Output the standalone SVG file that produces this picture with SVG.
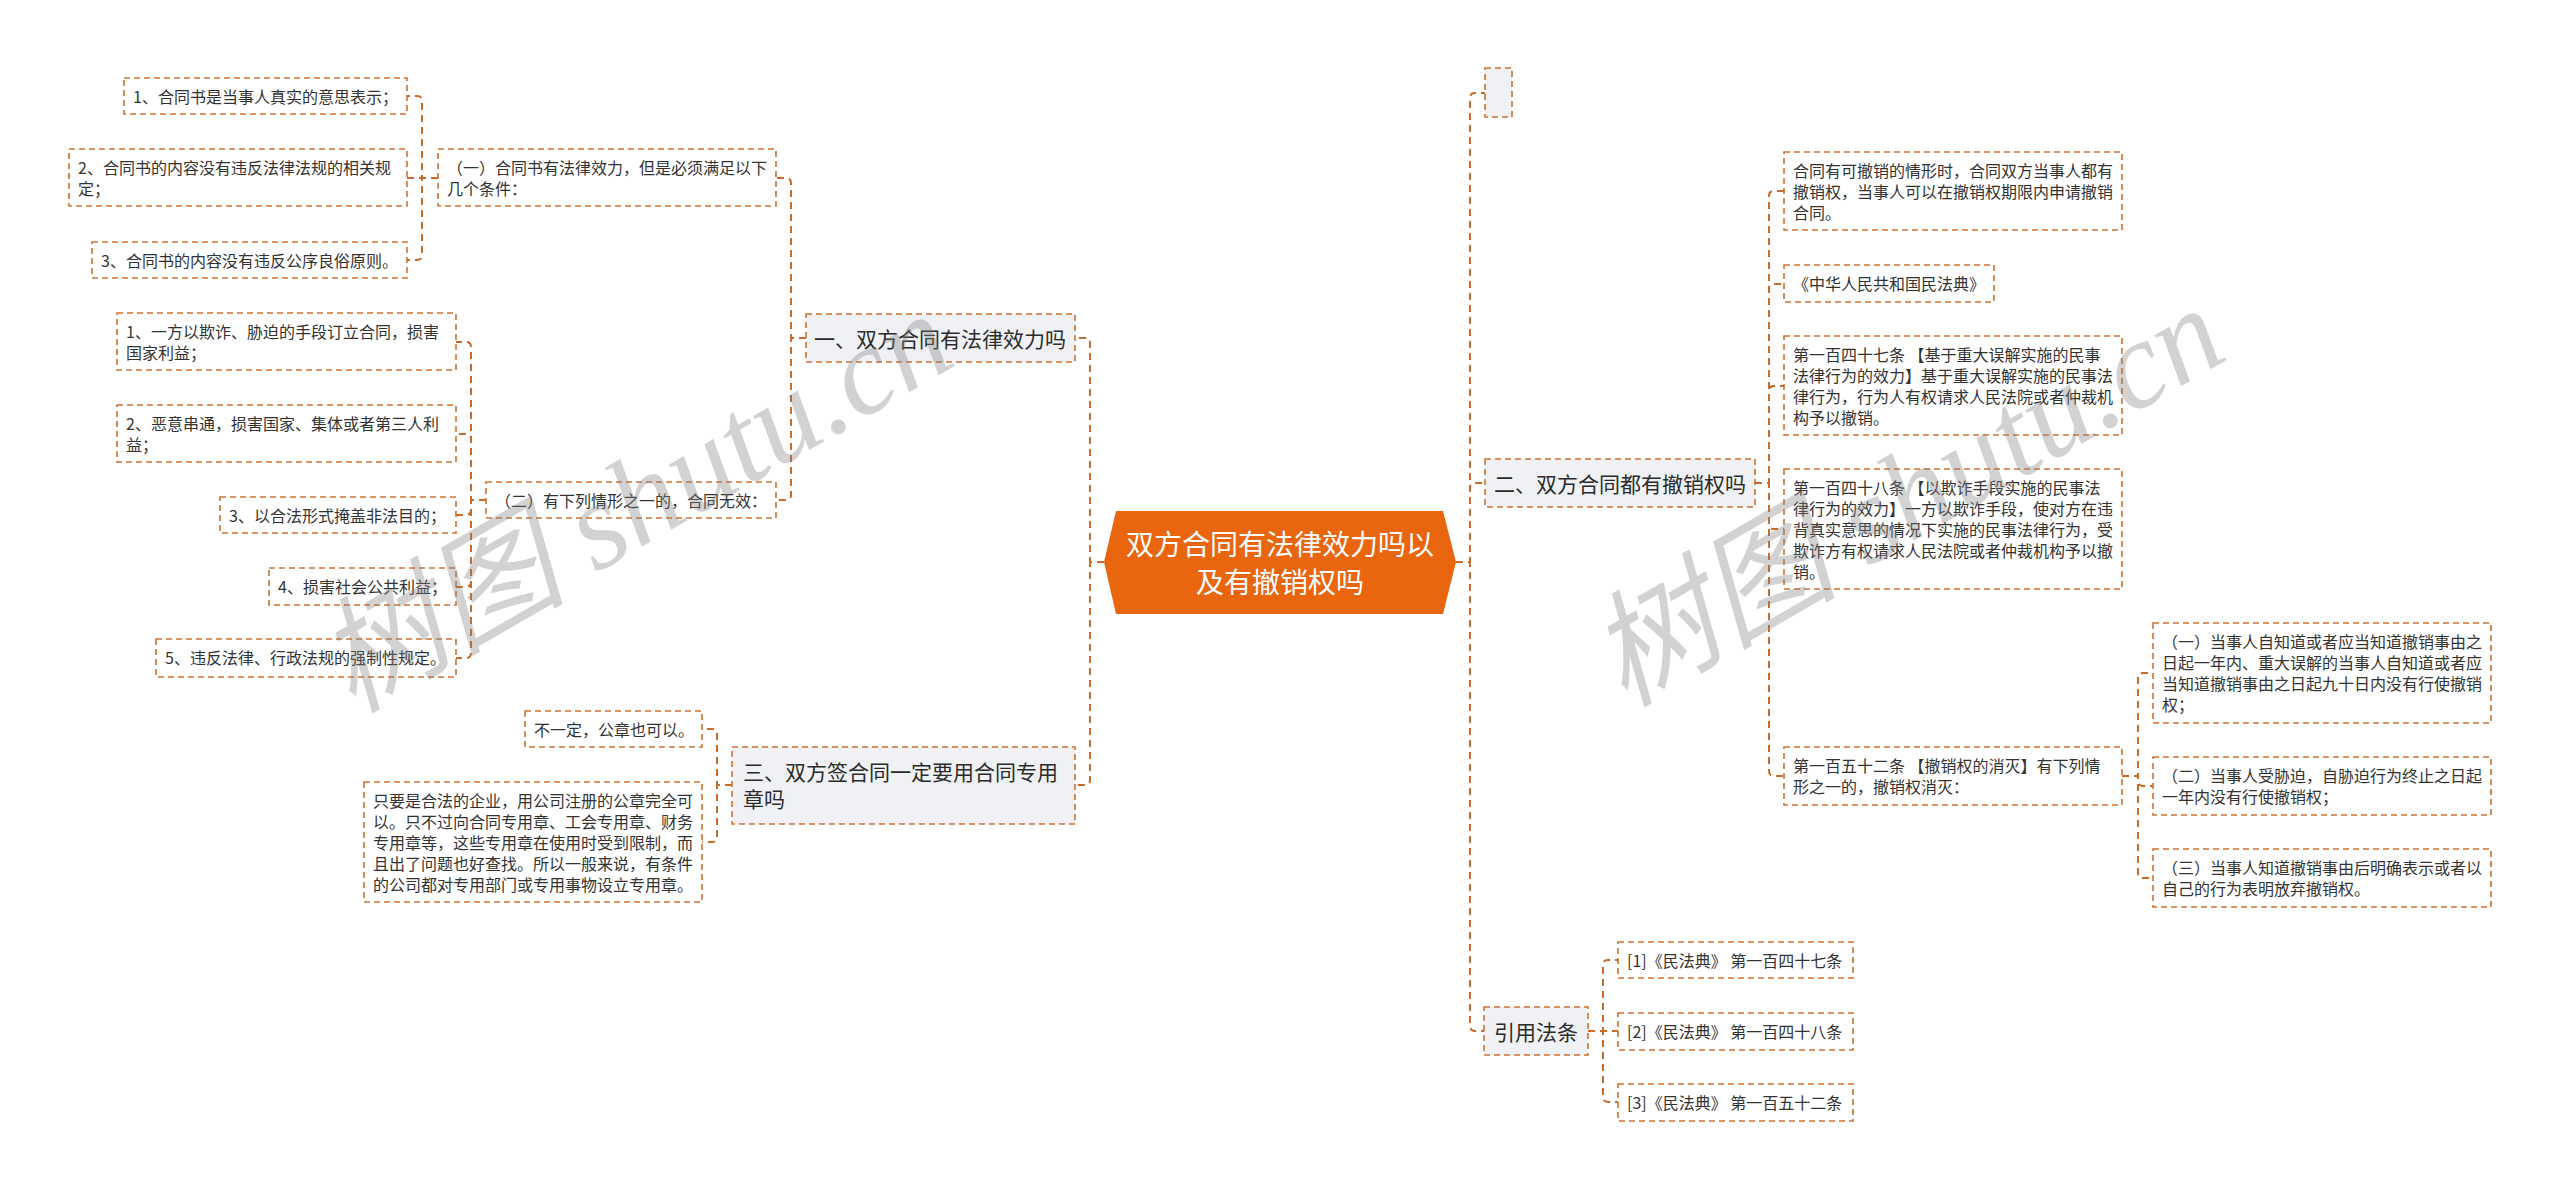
<svg xmlns="http://www.w3.org/2000/svg" width="2560" height="1190" viewBox="0 0 2560 1190">
<style>
.box{fill:#ffffff;stroke:#cf7230;stroke-width:1.6;stroke-dasharray:6 4}
.l1{fill:#eff1f4;stroke:#cf7230;stroke-width:1.6;stroke-dasharray:6 4}
.t{font-family:"Noto Sans CJK SC","Liberation Sans",sans-serif;font-size:16px;fill:#333333}
.t1{font-family:"Noto Sans CJK SC","Liberation Sans",sans-serif;font-size:21px;fill:#2b2b2b}
.rt{font-family:"Noto Sans CJK SC","Liberation Sans",sans-serif;font-size:28px;fill:#ffffff;text-anchor:middle}
.conn path{fill:none;stroke:#c96a28;stroke-width:2;stroke-dasharray:7 5}
.wm{font-family:"Liberation Serif","Noto Sans CJK SC",serif;font-style:italic;font-size:125px;fill:#808080;opacity:0.35}
</style>
<rect width="2560" height="1190" fill="#ffffff"/>
<g class="conn">
<path d="M1104 562 H1090 V343 Q1090 338 1085 338 H1075"/>
<path d="M1104 562 H1090 V780 Q1090 785 1085 785 H1075"/>
<path d="M1456 562 H1470 V98 Q1470 93 1475 93 H1485"/>
<path d="M1456 562 H1470 V488 Q1470 483 1475 483 H1485"/>
<path d="M1456 562 H1470 V1026 Q1470 1031 1475 1031 H1484"/>
<path d="M806 338 H791 V183 Q791 178 786 178 H776"/>
<path d="M806 338 H791 V495 Q791 500 786 500 H776"/>
<path d="M438 178 H422 V101 Q422 96 417 96 H407"/>
<path d="M438 178 H407"/>
<path d="M438 178 H422 V255 Q422 260 417 260 H407"/>
<path d="M486 500 H471 V347 Q471 342 466 342 H456"/>
<path d="M486 500 H471 V439 Q471 434 466 434 H456"/>
<path d="M486 500 H471 V510 Q471 515 466 515 H456"/>
<path d="M486 500 H471 V582 Q471 587 466 587 H456"/>
<path d="M486 500 H471 V653 Q471 658 466 658 H456"/>
<path d="M732 785 H717 V734 Q717 729 712 729 H702"/>
<path d="M732 785 H717 V837 Q717 842 712 842 H702"/>
<path d="M1755 483 H1769 V196 Q1769 191 1774 191 H1784"/>
<path d="M1755 483 H1769 V289 Q1769 284 1774 284 H1784"/>
<path d="M1755 483 H1769 V391 Q1769 386 1774 386 H1784"/>
<path d="M1755 483 H1769 V524 Q1769 529 1774 529 H1784"/>
<path d="M1755 483 H1769 V771 Q1769 776 1774 776 H1784"/>
<path d="M2122 776 H2138 V678 Q2138 673 2143 673 H2153"/>
<path d="M2122 776 H2138 V781 Q2138 786 2143 786 H2153"/>
<path d="M2122 776 H2138 V873 Q2138 878 2143 878 H2153"/>
<path d="M1588 1031 H1603 V965 Q1603 960 1608 960 H1618"/>
<path d="M1588 1031 H1618"/>
<path d="M1588 1031 H1603 V1097 Q1603 1102 1608 1102 H1618"/>
</g>
<g id="root">
<polygon points="1116,511 1443,511 1456,562 1443,614 1116,614 1104,562" fill="#e9660f"/>
<text class="rt"><tspan x="1280" y="555">双方合同有法律效力吗以</tspan><tspan x="1280" y="593">及有撤销权吗</tspan></text>
</g>
<g id="n1">
<rect class="l1" x="806" y="314" width="269" height="48"/>
<text class="t1" x="814" y="347">一、双方合同有法律效力吗</text>
</g>
<g id="n1-1">
<rect class="box" x="438" y="149" width="338" height="57"/>
<text class="t"><tspan x="447" y="174">（一）合同书有法律效力，但是必须满足以下</tspan><tspan x="447" y="195">几个条件：</tspan></text>
</g>
<g id="n1-1-1">
<rect class="box" x="124" y="78" width="283" height="36"/>
<text class="t" x="133" y="103">1、合同书是当事人真实的意思表示；</text>
</g>
<g id="n1-1-2">
<rect class="box" x="69" y="149" width="338" height="57"/>
<text class="t"><tspan x="78" y="174">2、合同书的内容没有违反法律法规的相关规</tspan><tspan x="78" y="195">定；</tspan></text>
</g>
<g id="n1-1-3">
<rect class="box" x="92" y="242" width="315" height="36"/>
<text class="t" x="101" y="267">3、合同书的内容没有违反公序良俗原则。</text>
</g>
<g id="n1-2">
<rect class="box" x="486" y="482" width="290" height="36"/>
<text class="t" x="495" y="507">（二）有下列情形之一的，合同无效：</text>
</g>
<g id="n1-2-1">
<rect class="box" x="117" y="313" width="339" height="57"/>
<text class="t"><tspan x="126" y="338">1、一方以欺诈、胁迫的手段订立合同，损害</tspan><tspan x="126" y="359">国家利益；</tspan></text>
</g>
<g id="n1-2-2">
<rect class="box" x="117" y="405" width="339" height="57"/>
<text class="t"><tspan x="126" y="430">2、恶意串通，损害国家、集体或者第三人利</tspan><tspan x="126" y="451">益；</tspan></text>
</g>
<g id="n1-2-3">
<rect class="box" x="220" y="497" width="236" height="36"/>
<text class="t" x="229" y="522">3、以合法形式掩盖非法目的；</text>
</g>
<g id="n1-2-4">
<rect class="box" x="269" y="568" width="187" height="37"/>
<text class="t" x="278" y="593">4、损害社会公共利益；</text>
</g>
<g id="n1-2-5">
<rect class="box" x="156" y="639" width="300" height="38"/>
<text class="t" x="165" y="664">5、违反法律、行政法规的强制性规定。</text>
</g>
<g id="n3">
<rect class="l1" x="732" y="747" width="343" height="77"/>
<text class="t1"><tspan x="743" y="780">三、双方签合同一定要用合同专用</tspan><tspan x="743" y="807">章吗</tspan></text>
</g>
<g id="n3-1">
<rect class="box" x="525" y="711" width="177" height="36"/>
<text class="t" x="534" y="736">不一定，公章也可以。</text>
</g>
<g id="n3-2">
<rect class="box" x="364" y="782" width="338" height="120"/>
<text class="t"><tspan x="373" y="807">只要是合法的企业，用公司注册的公章完全可</tspan><tspan x="373" y="828">以。只不过向合同专用章、工会专用章、财务</tspan><tspan x="373" y="849">专用章等，这些专用章在使用时受到限制，而</tspan><tspan x="373" y="870">且出了问题也好查找。所以一般来说，有条件</tspan><tspan x="373" y="891">的公司都对专用部门或专用事物设立专用章。</tspan></text>
</g>
<g id="n0">
<rect class="l1" x="1485" y="68" width="27" height="49"/>
</g>
<g id="n2">
<rect class="l1" x="1485" y="459" width="270" height="48"/>
<text class="t1" x="1494" y="492">二、双方合同都有撤销权吗</text>
</g>
<g id="n2-1">
<rect class="box" x="1784" y="152" width="338" height="78"/>
<text class="t"><tspan x="1793" y="177">合同有可撤销的情形时，合同双方当事人都有</tspan><tspan x="1793" y="198">撤销权，当事人可以在撤销权期限内申请撤销</tspan><tspan x="1793" y="219">合同。</tspan></text>
</g>
<g id="n2-2">
<rect class="box" x="1784" y="265" width="210" height="37"/>
<text class="t" x="1793" y="290">《中华人民共和国民法典》</text>
</g>
<g id="n2-3">
<rect class="box" x="1784" y="336" width="338" height="99"/>
<text class="t"><tspan x="1793" y="361">第一百四十七条 【基于重大误解实施的民事</tspan><tspan x="1793" y="382">法律行为的效力】基于重大误解实施的民事法</tspan><tspan x="1793" y="403">律行为，行为人有权请求人民法院或者仲裁机</tspan><tspan x="1793" y="424">构予以撤销。</tspan></text>
</g>
<g id="n2-4">
<rect class="box" x="1784" y="469" width="338" height="120"/>
<text class="t"><tspan x="1793" y="494">第一百四十八条 【以欺诈手段实施的民事法</tspan><tspan x="1793" y="515">律行为的效力】一方以欺诈手段，使对方在违</tspan><tspan x="1793" y="536">背真实意思的情况下实施的民事法律行为，受</tspan><tspan x="1793" y="557">欺诈方有权请求人民法院或者仲裁机构予以撤</tspan><tspan x="1793" y="578">销。</tspan></text>
</g>
<g id="n2-5">
<rect class="box" x="1784" y="747" width="338" height="58"/>
<text class="t"><tspan x="1793" y="772">第一百五十二条 【撤销权的消灭】有下列情</tspan><tspan x="1793" y="793">形之一的，撤销权消灭：</tspan></text>
</g>
<g id="n2-5-1">
<rect class="box" x="2153" y="623" width="338" height="100"/>
<text class="t"><tspan x="2162" y="648">（一）当事人自知道或者应当知道撤销事由之</tspan><tspan x="2162" y="669">日起一年内、重大误解的当事人自知道或者应</tspan><tspan x="2162" y="690">当知道撤销事由之日起九十日内没有行使撤销</tspan><tspan x="2162" y="711">权；</tspan></text>
</g>
<g id="n2-5-2">
<rect class="box" x="2153" y="757" width="338" height="58"/>
<text class="t"><tspan x="2162" y="782">（二）当事人受胁迫，自胁迫行为终止之日起</tspan><tspan x="2162" y="803">一年内没有行使撤销权；</tspan></text>
</g>
<g id="n2-5-3">
<rect class="box" x="2153" y="849" width="338" height="58"/>
<text class="t"><tspan x="2162" y="874">（三）当事人知道撤销事由后明确表示或者以</tspan><tspan x="2162" y="895">自己的行为表明放弃撤销权。</tspan></text>
</g>
<g id="n4">
<rect class="l1" x="1484" y="1007" width="104" height="48"/>
<text class="t1" x="1494" y="1040">引用法条</text>
</g>
<g id="n4-1">
<rect class="box" x="1618" y="942" width="235" height="36"/>
<text class="t" x="1627" y="967">[1]《民法典》 第一百四十七条</text>
</g>
<g id="n4-2">
<rect class="box" x="1618" y="1013" width="235" height="37"/>
<text class="t" x="1627" y="1038">[2]《民法典》 第一百四十八条</text>
</g>
<g id="n4-3">
<rect class="box" x="1618" y="1084" width="235" height="37"/>
<text class="t" x="1627" y="1109">[3]《民法典》 第一百五十二条</text>
</g>
<g id="watermark">
<text class="wm" transform="translate(352 714) rotate(-30)">树图 shutu.cn</text>
<text class="wm" transform="translate(1624 708) rotate(-30)">树图 shutu.cn</text>
</g>
</svg>
